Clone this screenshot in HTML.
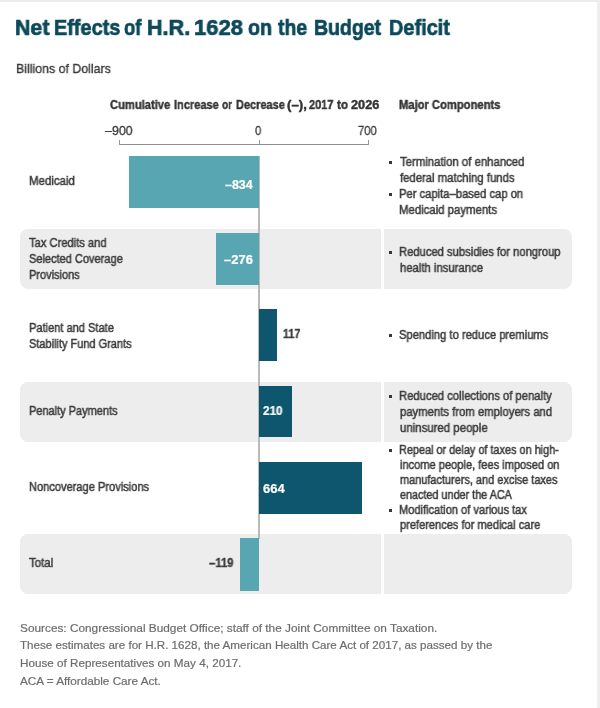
<!DOCTYPE html>
<html><head><meta charset="utf-8"><title>Net Effects of H.R. 1628 on the Budget Deficit</title>
<style>
html,body{margin:0;padding:0;background:#fff;}
body{width:600px;height:708px;position:relative;overflow:hidden;font-family:"Liberation Sans",sans-serif;}
.x{position:absolute;display:block;}
span{will-change:transform;position:absolute;white-space:nowrap;line-height:1;transform-origin:0 0;display:block;}
.t{font-weight:bold;color:#0c4959;-webkit-text-stroke:0.7px #0c4959;}
.s{color:#38383a;-webkit-text-stroke:0.35px #38383a;}
.h{font-weight:bold;color:#343436;-webkit-text-stroke:0.4px #343436;}
.a{color:#38383a;-webkit-text-stroke:0.3px #38383a;}
.l{color:#3c3c3e;-webkit-text-stroke:0.5px #3c3c3e;}
.c{color:#3c3c3e;-webkit-text-stroke:0.5px #3c3c3e;}
.v{font-weight:bold;color:#fff;-webkit-text-stroke:0.2px #fff;}
.d{font-weight:bold;color:#3b3b3d;-webkit-text-stroke:0.3px #3b3b3d;}
.f{color:#6c6d70;-webkit-text-stroke:0.2px #6c6d70;}
.g{background:#ededed;}
.lt{background:#58a6b1;}
.dk{background:#0d566d;}
</style></head>
<body>
<div class="x" style="left:0;top:0;width:600px;height:2px;background:#ebebeb"></div>
<div class="x" style="left:597px;top:0;width:3px;height:708px;background:#eeeeee"></div>
<div class="x g" style="left:19.5px;top:228.75px;width:361.75px;height:60px;border-radius:8px 0 0 8px"></div>
<div class="x g" style="left:383.75px;top:228.75px;width:188px;height:60px;border-radius:0 8px 8px 0"></div>
<div class="x g" style="left:19.5px;top:381.6px;width:361.75px;height:60px;border-radius:8px 0 0 8px"></div>
<div class="x g" style="left:383.75px;top:381.6px;width:188px;height:60px;border-radius:0 8px 8px 0"></div>
<div class="x g" style="left:19.5px;top:534.4px;width:361.75px;height:60px;border-radius:8px 0 0 8px"></div>
<div class="x g" style="left:383.75px;top:534.4px;width:188px;height:60px;border-radius:0 8px 8px 0"></div>
<div class="x" style="left:119px;top:143.7px;width:250px;height:1px;background:#8e8e8e"></div>
<div class="x" style="left:119px;top:140.4px;width:1px;height:4.3px;background:#9a9a9a"></div>
<div class="x" style="left:258.5px;top:140.4px;width:1px;height:4.3px;background:#9a9a9a"></div>
<div class="x" style="left:368px;top:140.4px;width:1px;height:4.3px;background:#9a9a9a"></div>
<div class="x" style="left:258.2px;top:156px;width:1.6px;height:383px;background:#b9b9b9"></div>
<div class="x lt" style="left:129.3px;top:156.1px;width:130.00px;height:51.8px"></div>
<div class="x lt" style="left:215.8px;top:233px;width:43.50px;height:51.8px"></div>
<div class="x dk" style="left:258.5px;top:309.2px;width:18.30px;height:51.8px"></div>
<div class="x dk" style="left:258.5px;top:385.7px;width:33.00px;height:51.8px"></div>
<div class="x dk" style="left:258.5px;top:462px;width:103.50px;height:51.8px"></div>
<div class="x lt" style="left:240px;top:538.1px;width:19.30px;height:52.5px"></div>
<div class="x" style="left:389.3px;top:161.3px;width:2.8px;height:2.8px;background:#38383a"></div>
<div class="x" style="left:389.3px;top:193.3px;width:2.8px;height:2.8px;background:#38383a"></div>
<div class="x" style="left:389.3px;top:251.1px;width:2.8px;height:2.8px;background:#38383a"></div>
<div class="x" style="left:389.3px;top:334.3px;width:2.8px;height:2.8px;background:#38383a"></div>
<div class="x" style="left:389.3px;top:395.3px;width:2.8px;height:2.8px;background:#38383a"></div>
<div class="x" style="left:389.3px;top:449.3px;width:2.8px;height:2.8px;background:#38383a"></div>
<div class="x" style="left:389.3px;top:509.3px;width:2.8px;height:2.8px;background:#38383a"></div>
<span class="t" style="left:14.66px;top:17.47px;font-size:22.6px;transform:scaleX(0.9457)">Net</span>
<span class="t" style="left:53.76px;top:17.47px;font-size:22.6px;transform:scaleX(0.8805)">Effects</span>
<span class="t" style="left:123.82px;top:17.47px;font-size:22.6px;transform:scaleX(0.8147)">of</span>
<span class="t" style="left:146.65px;top:17.47px;font-size:22.6px;transform:scaleX(0.9564)">H.R.</span>
<span class="t" style="left:193.63px;top:17.47px;font-size:22.6px;transform:scaleX(0.9731)">1628</span>
<span class="t" style="left:248.13px;top:17.47px;font-size:22.6px;transform:scaleX(0.8717)">on</span>
<span class="t" style="left:278.00px;top:17.47px;font-size:22.6px;transform:scaleX(0.8624)">the</span>
<span class="t" style="left:314.28px;top:17.47px;font-size:22.6px;transform:scaleX(0.8616)">Budget</span>
<span class="t" style="left:388.76px;top:17.47px;font-size:22.6px;transform:scaleX(0.8809)">Deficit</span>
<span class="s" style="left:15.53px;top:61.57px;font-size:13.5px;transform:scaleX(0.9161)">Billions of Dollars</span>
<span class="h" style="left:109.83px;top:99.04px;font-size:12px;transform:scaleX(0.9318)">Cumulative</span>
<span class="h" style="left:173.66px;top:99.04px;font-size:12px;transform:scaleX(0.9194)">Increase</span>
<span class="h" style="left:222.12px;top:99.04px;font-size:12px;transform:scaleX(0.8436)">or</span>
<span class="h" style="left:235.52px;top:99.04px;font-size:12px;transform:scaleX(0.9147)">Decrease</span>
<span class="h" style="left:287.29px;top:99.04px;font-size:12px;transform:scaleX(1.1010)">(–),</span>
<span class="h" style="left:308.53px;top:99.04px;font-size:12px;transform:scaleX(0.9157)">2017</span>
<span class="h" style="left:337.30px;top:99.04px;font-size:12px;transform:scaleX(0.9726)">to</span>
<span class="h" style="left:351.33px;top:99.04px;font-size:12px;transform:scaleX(1.0610)">2026</span>
<span class="h" style="left:399.05px;top:99.04px;font-size:12px;transform:scaleX(0.9330)">Major Components</span>
<span class="a" style="left:105.00px;top:124.72px;font-size:12.5px;transform:scaleX(0.9943)">–900</span>
<span class="a" style="left:255.39px;top:124.72px;font-size:12.5px;transform:scaleX(0.9008)">0</span>
<span class="a" style="left:357.76px;top:124.72px;font-size:12.5px;transform:scaleX(0.8938)">700</span>
<span class="l" style="left:28.59px;top:175.04px;font-size:12px;transform:scaleX(0.9558)">Medicaid</span>
<span class="l" style="left:28.57px;top:236.64px;font-size:12px;transform:scaleX(0.9308)">Tax Credits and</span>
<span class="l" style="left:28.74px;top:252.64px;font-size:12px;transform:scaleX(0.9184)">Selected Coverage</span>
<span class="l" style="left:28.63px;top:268.64px;font-size:12px;transform:scaleX(0.9166)">Provisions</span>
<span class="l" style="left:28.62px;top:321.84px;font-size:12px;transform:scaleX(0.9217)">Patient and State</span>
<span class="l" style="left:28.74px;top:337.84px;font-size:12px;transform:scaleX(0.9159)">Stability Fund Grants</span>
<span class="l" style="left:28.63px;top:405.04px;font-size:12px;transform:scaleX(0.9154)">Penalty Payments</span>
<span class="l" style="left:28.62px;top:480.64px;font-size:12px;transform:scaleX(0.9230)">Noncoverage Provisions</span>
<span class="l" style="left:28.56px;top:556.84px;font-size:12px;transform:scaleX(0.9535)">Total</span>
<span class="v" style="left:224.64px;top:179.34px;font-size:12px;transform:scaleX(1.0372)">–834</span>
<span class="v" style="left:224.12px;top:253.84px;font-size:12px;transform:scaleX(1.0802)">–276</span>
<span class="d" style="left:283.13px;top:327.84px;font-size:12px;transform:scaleX(0.8957)">117</span>
<span class="v" style="left:263.41px;top:404.84px;font-size:12px;transform:scaleX(0.9766)">210</span>
<span class="v" style="left:263.37px;top:482.84px;font-size:12px;transform:scaleX(1.0818)">664</span>
<span class="d" style="left:208.87px;top:557.44px;font-size:12px;transform:scaleX(0.9422)">–119</span>
<span class="c" style="left:399.56px;top:155.84px;font-size:12px;transform:scaleX(0.9468)">Termination of enhanced</span>
<span class="c" style="left:400.16px;top:171.84px;font-size:12px;transform:scaleX(0.9433)">federal matching funds</span>
<span class="c" style="left:398.91px;top:187.84px;font-size:12px;transform:scaleX(0.9348)">Per capita–based cap on</span>
<span class="c" style="left:398.90px;top:203.84px;font-size:12px;transform:scaleX(0.9477)">Medicaid payments</span>
<span class="c" style="left:398.91px;top:245.64px;font-size:12px;transform:scaleX(0.9349)">Reduced subsidies for nongroup</span>
<span class="c" style="left:399.55px;top:261.64px;font-size:12px;transform:scaleX(0.9419)">health insurance</span>
<span class="c" style="left:399.33px;top:328.84px;font-size:12px;transform:scaleX(0.9328)">Spending to reduce premiums</span>
<span class="c" style="left:398.91px;top:389.84px;font-size:12px;transform:scaleX(0.9387)">Reduced collections of penalty</span>
<span class="c" style="left:399.59px;top:405.84px;font-size:12px;transform:scaleX(0.9423)">payments from employers and</span>
<span class="c" style="left:399.59px;top:421.84px;font-size:12px;transform:scaleX(0.9515)">uninsured people</span>
<span class="c" style="left:398.94px;top:443.84px;font-size:12px;transform:scaleX(0.9075)">Repeal or delay of taxes on high-</span>
<span class="c" style="left:399.56px;top:458.84px;font-size:12px;transform:scaleX(0.9229)">income people, fees imposed on</span>
<span class="c" style="left:399.62px;top:473.84px;font-size:12px;transform:scaleX(0.9114)">manufacturers, and excise taxes</span>
<span class="c" style="left:399.85px;top:488.84px;font-size:12px;transform:scaleX(0.9014)">enacted under the ACA</span>
<span class="c" style="left:398.92px;top:503.84px;font-size:12px;transform:scaleX(0.9217)">Modification of various tax</span>
<span class="c" style="left:399.61px;top:518.84px;font-size:12px;transform:scaleX(0.9218)">preferences for medical care</span>
<span class="f" style="left:20.09px;top:622.57px;font-size:11.5px;transform:scaleX(1.0280)">Sources: Congressional Budget Office; staff of the Joint Committee on Taxation.</span>
<span class="f" style="left:20.15px;top:640.27px;font-size:11.5px;transform:scaleX(1.0095)">These estimates are for H.R. 1628, the American Health Care Act of 2017, as passed by the</span>
<span class="f" style="left:19.69px;top:657.97px;font-size:11.5px;transform:scaleX(1.0155)">House of Representatives on May 4, 2017.</span>
<span class="f" style="left:20.30px;top:675.87px;font-size:11.5px;transform:scaleX(1.0191)">ACA = Affordable Care Act.</span>
</body></html>
